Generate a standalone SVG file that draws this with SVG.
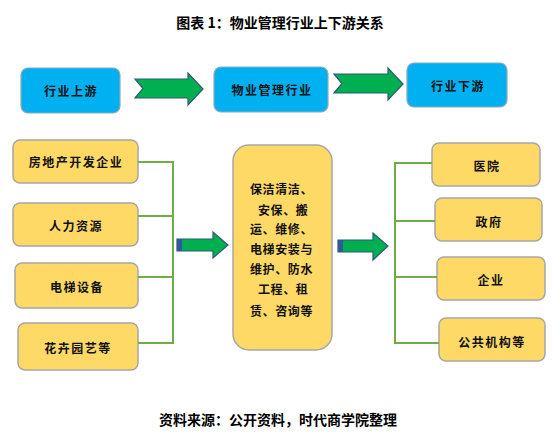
<svg xmlns="http://www.w3.org/2000/svg" width="557" height="442" viewBox="0 0 557 442">
<style>
.bg{fill:#ffffff}
.blue{fill:#00b0f0;stroke:#8fa9b8;stroke-width:1.2}
.yel{fill:#ffd966;stroke:#a6a6a6;stroke-width:1.5}
.t{font-family:"Noto Sans CJK SC","Noto Sans",sans-serif;font-weight:bold;font-size:12px;letter-spacing:1.5px;fill:#111;text-anchor:middle;dominant-baseline:central}
.c{font-family:"Noto Sans CJK SC","Noto Sans",sans-serif;font-weight:bold;font-size:12px;letter-spacing:0.6px;fill:#111;dominant-baseline:central}
.h{font-family:"Noto Sans CJK SC","Noto Sans",sans-serif;font-weight:bold;font-size:14px;fill:#000;text-anchor:middle;dominant-baseline:central}
.arr{fill:#00b050;stroke:#2e5a78;stroke-width:1.2;stroke-linejoin:miter}
.strip{fill:#2e5a9a}
.ln{fill:none;stroke:#70ad47;stroke-width:2}
</style>
<rect class="bg" x="0" y="0" width="557" height="442"/>
<text class="h" x="280" y="22">图表 1：物业管理行业上下游关系</text>

<g id="upstream"><rect class="blue" x="21" y="68" width="99" height="45" rx="7"/><text class="t" x="71" y="90">行业上游</text></g>
<g id="industry"><rect class="blue" x="214" y="67" width="114" height="45" rx="7"/><text class="t" x="272" y="89">物业管理行业</text></g>
<g id="downstream"><rect class="blue" x="407" y="63" width="100" height="44" rx="7"/><text class="t" x="458" y="85">行业下游</text></g>

<g id="s1"><rect class="yel" x="13" y="140" width="125" height="43" rx="7"/><text class="t" x="76" y="161">房地产开发企业</text></g>
<g id="s2"><rect class="yel" x="13" y="203" width="125" height="43" rx="7"/><text class="t" x="76" y="225">人力资源</text></g>
<g id="s3"><rect class="yel" x="15" y="263" width="123" height="45" rx="7"/><text class="t" x="77" y="286">电梯设备</text></g>
<g id="s4"><rect class="yel" x="18" y="323" width="120" height="47" rx="7"/><text class="t" x="78" y="347">花卉园艺等</text></g>

<g id="services"><rect class="yel" x="233" y="145" width="99" height="205" rx="16"/>
<text class="c" x="250" y="188">保洁清洁、</text>
<text class="c" x="258" y="209">安保、搬</text>
<text class="c" x="250" y="228">运、维修、</text>
<text class="c" x="250" y="248">电梯安装与</text>
<text class="c" x="250" y="268">维护、防水</text>
<text class="c" x="258" y="288">工程、租</text>
<text class="c" x="250" y="310">赁、咨询等</text>
</g>

<g id="d1"><rect class="yel" x="432" y="143" width="108" height="43" rx="7"/><text class="t" x="487" y="165">医院</text></g>
<g id="d2"><rect class="yel" x="435" y="198" width="107" height="43" rx="7"/><text class="t" x="489" y="221">政府</text></g>
<g id="d3"><rect class="yel" x="437" y="257" width="108" height="43" rx="7"/><text class="t" x="491" y="279">企业</text></g>
<g id="d4"><rect class="yel" x="439" y="318" width="106" height="43" rx="7"/><text class="t" x="492" y="341">公共机构等</text></g>

<g id="connectors">
<polygon class="arr" points="135,79 188,79 188,73 203,89 188,105 188,98 135,98 143,88.5"/>
<polygon class="arr" points="334,74 388,74 388,68 403,84 388,100 388,93 334,93 342,83.5"/>
<polyline class="ln" points="138,162 173,162"/>
<polyline class="ln" points="138,216 173,216"/>
<polyline class="ln" points="138,277 173,277"/>
<polyline class="ln" points="138,343 173,343"/>
<line class="ln" x1="173" y1="161" x2="173" y2="344"/>
<polygon class="arr" points="177,239 213,239 213,232 228,245 213,258 213,251 177,251"/>
<rect class="strip" x="177" y="239" width="5" height="12"/>
<polygon class="arr" points="338,240 373,240 373,233 388,246 373,260 373,252 338,252"/>
<rect class="strip" x="338" y="240" width="5" height="12"/>
<line class="ln" x1="395" y1="162" x2="395" y2="344"/>
<polyline class="ln" points="395,163 432,163"/>
<polyline class="ln" points="395,221 435,221"/>
<polyline class="ln" points="395,277 437,277"/>
<polyline class="ln" points="395,343 439,343"/>
</g>

<text class="h" x="278" y="419">资料来源：公开资料，时代商学院整理</text>
</svg>
